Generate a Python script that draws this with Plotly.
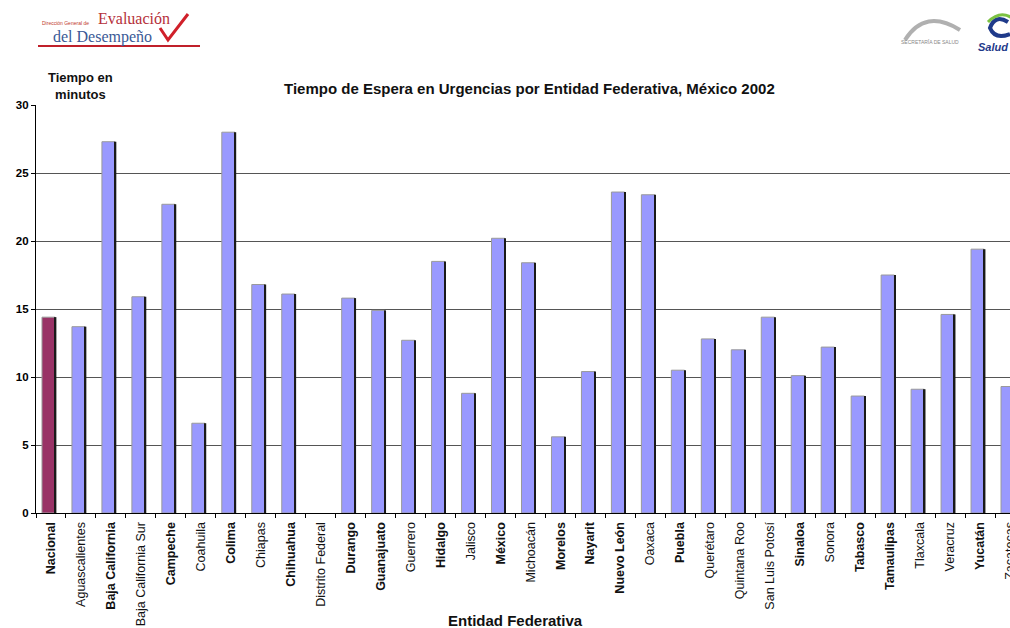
import plotly.graph_objects as go

entidades = ["Nacional", "Aguascalientes", "Baja California", "Baja California Sur", "Campeche",
             "Coahuila", "Colima", "Chiapas", "Chihuahua", "Distrito Federal", "Durango",
             "Guanajuato", "Guerrero", "Hidalgo", "Jalisco", "México", "Michoacán", "Morelos",
             "Nayarit", "Nuevo León", "Oaxaca", "Puebla", "Querétaro", "Quintana Roo",
             "San Luis Potosí", "Sinaloa", "Sonora", "Tabasco", "Tamaulipas", "Tlaxcala",
             "Veracruz", "Yucatán", "Zacatecas"]
minutos = [14.4, 13.7, 27.3, 15.9, 22.7,
           6.6, 28.0, 16.8, 16.1, None, 15.8,
           14.9, 12.7, 18.5, 8.8, 20.2, 18.4, 5.6,
           10.4, 23.6, 23.4, 10.5, 12.8, 12.0,
           14.4, 10.1, 12.2, 8.6, 17.5, 9.1,
           14.6, 19.4, 9.3]
etiquetas_negritas = {"Nacional", "Baja California", "Campeche", "Colima", "Chihuahua", "Durango",
                      "Guanajuato", "Hidalgo", "México", "Morelos", "Nayarit", "Nuevo León",
                      "Puebla", "Sinaloa", "Tabasco", "Tamaulipas", "Yucatán"}
y_ticks = [0, 5, 10, 15, 20, 25, 30]

titulo = "Tiempo de Espera en Urgencias por Entidad Federativa, México 2002"
titulo_y = "Tiempo en<br>minutos"
titulo_x = "Entidad Federativa"

FONT = "Liberation Sans, Arial, sans-serif"
COLOR_BAR = "#9999FF"
COLOR_NAC = "#993366"

colores = [COLOR_NAC if e == "Nacional" else COLOR_BAR for e in entidades]
ticktext = [f"<b>{e}</b>" if e in etiquetas_negritas else e for e in entidades]
yticktext = [f"<b>{v}</b>" for v in y_ticks]

fig = go.Figure()
# main bars
fig.add_trace(go.Bar(
    x=entidades, y=minutos,
    marker=dict(color=colores, line=dict(color="#9a9a9a", width=1)),
    width=0.44, offset=-0.30, showlegend=False, hoverinfo="x+y",
))
# dark right-edge shading (3D effect)
fig.add_trace(go.Bar(
    x=entidades, y=minutos,
    marker=dict(color="#1a1a1a", line=dict(width=0)),
    width=0.05, offset=0.13, showlegend=False, hoverinfo="skip",
))

W, H = 1010, 628
L, R, T, B = 36, 0, 105, 115
pw, ph = W - L - R, H - T - B


def px(x):
    return (x - L) / pw


def py(y):
    return (H - B - y) / ph


SERIF = "Liberation Serif, Times New Roman, serif"

fig.update_layout(
    width=W, height=H,
    margin=dict(l=L, r=R, t=T, b=B, pad=0, autoexpand=False),
    paper_bgcolor="white", plot_bgcolor="white",
    barmode="overlay",
    font=dict(family=FONT, color="#000"),
    xaxis=dict(
        type="category", range=[-0.5, 32.0], automargin=False,
        tickmode="array", tickvals=entidades, ticktext=ticktext,
        tickangle=-90, tickfont=dict(size=12.5, family=FONT, color="#111"),
        ticks="outside", ticklen=4, tickcolor="#000", tickson="boundaries",
        ticklabelstandoff=3,
        showline=True, linecolor="#000", linewidth=1.2,
        showgrid=False, zeroline=False,
    ),
    yaxis=dict(
        range=[0, 30], tickmode="array", tickvals=y_ticks, ticktext=yticktext,
        automargin=False,
        tickfont=dict(size=11.5, family=FONT, color="#000"),
        ticks="outside", ticklen=4, tickcolor="#000",
        showline=True, linecolor="#000", linewidth=1.2,
        showgrid=True, gridcolor="#555555", gridwidth=1,
        zeroline=False,
    ),
    annotations=[
        dict(text=f"<b>{titulo}</b>", xref="paper", yref="paper", x=px(529), y=py(89),
             showarrow=False, font=dict(size=15, family=FONT, color="#111"),
             xanchor="center", yanchor="middle"),
        dict(text=f"<b>{titulo_y}</b>", xref="paper", yref="paper", x=px(80), y=py(86),
             showarrow=False, font=dict(size=13, family=FONT, color="#111"),
             xanchor="center", yanchor="middle"),
        dict(text=f"<b>{titulo_x}</b>", xref="paper", yref="paper", x=px(515), y=py(620),
             showarrow=False, font=dict(size=15, family=FONT, color="#111"),
             xanchor="center", yanchor="middle"),
        # left logo
        dict(text="Dirección General de", xref="paper", yref="paper", x=px(40), y=py(23),
             showarrow=False, font=dict(size=5, family=FONT, color="#c0392b"),
             xanchor="left", yanchor="middle"),
        dict(text="Evaluación", xref="paper", yref="paper", x=px(96), y=py(18),
             showarrow=False, font=dict(size=16, family=SERIF, color="#b5303a"),
             xanchor="left", yanchor="middle"),
        dict(text="del Desempeño", xref="paper", yref="paper", x=px(51), y=py(37),
             showarrow=False, font=dict(size=16, family=SERIF, color="#3a5996"),
             xanchor="left", yanchor="middle"),
        # right logos
        dict(text="SECRETARÍA DE SALUD", xref="paper", yref="paper", x=px(930), y=py(42),
             showarrow=False, font=dict(size=5, family=FONT, color="#888"),
             xanchor="center", yanchor="middle"),
        dict(text="<b><i>Salud</i></b>", xref="paper", yref="paper", x=px(976), y=py(47),
             showarrow=False, font=dict(size=11, family=FONT, color="#1f3a8a"),
             xanchor="left", yanchor="middle"),
    ],
    shapes=[
        dict(type="line", xref="paper", yref="paper", x0=px(38), x1=px(200), y0=py(46), y1=py(46),
             line=dict(color="#c0202a", width=2)),
        dict(type="path", xref="paper", yref="paper",
             path=f"M {px(160)},{py(28)} L {px(168)},{py(40)} L {px(188)},{py(14)}",
             line=dict(color="#d0202a", width=3)),
        dict(type="path", xref="paper", yref="paper",
             path=f"M {px(905)},{py(40)} Q {px(925)},{py(8)} {px(960)},{py(30)}",
             line=dict(color="#b0b0b0", width=4)),
        dict(type="path", xref="paper", yref="paper",
             path=f"M {px(1008)},{py(22)} Q {px(995)},{py(14)} {px(990)},{py(28)} Q {px(995)},{py(40)} {px(1010)},{py(34)}",
             line=dict(color="#1f3a8a", width=4)),
        dict(type="path", xref="paper", yref="paper",
             path=f"M {px(988)},{py(22)} Q {px(1000)},{py(10)} {px(1012)},{py(18)}",
             line=dict(color="#7cc242", width=3)),
    ],
)

fig.write_html("out.html")
